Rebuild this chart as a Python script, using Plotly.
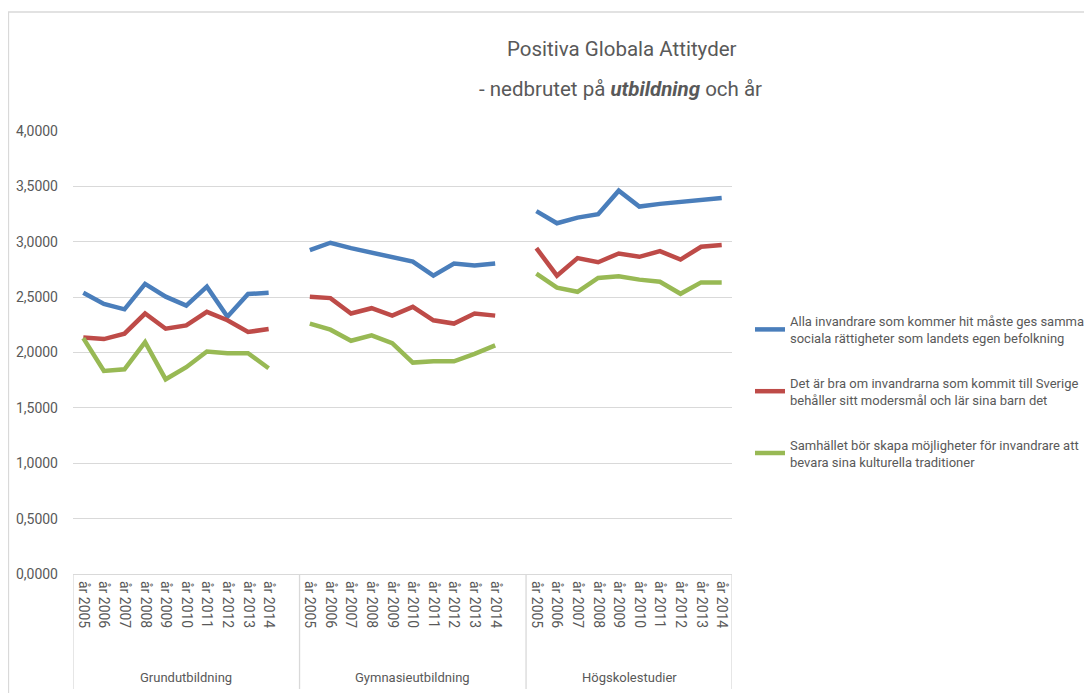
import plotly.graph_objects as go

# ---------------- data ----------------
groups = ["Grundutbildning", "Gymnasieutbildning", "Högskolestudier"]
years = ["år 2005", "år 2006", "år 2007", "år 2008", "år 2009",
         "år 2010", "år 2011", "år 2012", "år 2013", "år 2014"]

series_names = [
    "Alla invandrare som kommer hit måste ges samma<br>sociala rättigheter som landets egen befolkning",
    "Det är bra om invandrarna som kommit till Sverige<br>behåller sitt modersmål och lär sina barn det",
    "Samhället bör skapa möjligheter för invandrare att<br>bevara sina kulturella traditioner",
]

blue_grund = [2.540, 2.438, 2.390, 2.619, 2.504, 2.423, 2.594, 2.323, 2.528, 2.540]
blue_gymn = [2.924, 2.991, 2.942, 2.900, 2.855, 2.821, 2.694, 2.803, 2.785, 2.803]
blue_hogsk = [3.276, 3.167, 3.218, 3.248, 3.461, 3.318, 3.342, 3.361, 3.385, 3.394]

red_grund = [2.136, 2.121, 2.170, 2.352, 2.215, 2.245, 2.367, 2.291, 2.185, 2.212]
red_gymn = [2.503, 2.491, 2.352, 2.400, 2.333, 2.412, 2.291, 2.261, 2.352, 2.333]
red_hogsk = [2.942, 2.694, 2.852, 2.815, 2.894, 2.864, 2.915, 2.839, 2.955, 2.970]

green_grund = [2.130, 1.833, 1.848, 2.094, 1.758, 1.867, 2.009, 1.994, 1.994, 1.858]
green_gymn = [2.261, 2.206, 2.106, 2.155, 2.085, 1.909, 1.921, 1.921, 1.988, 2.064]
green_hogsk = [2.712, 2.585, 2.548, 2.673, 2.688, 2.658, 2.639, 2.530, 2.633, 2.633]

y_ticks = [0, 0.5, 1.0, 1.5, 2.0, 2.5, 3.0, 3.5, 4.0]

colors = ["#4A7EBB", "#BE4B48", "#98B954"]

# ---------------- build category slots (blank slot between groups) ----------------
per_group = [[blue_grund, blue_gymn, blue_hogsk],
             [red_grund, red_gymn, red_hogsk],
             [green_grund, green_gymn, green_hogsk]]

x_slots, tick_text, group_bounds = [], [], []
slot = 0
for gi, g in enumerate(groups):
    start = slot
    for yr in years:
        x_slots.append(slot)
        tick_text.append(yr)
        slot += 1
    if gi < len(groups) - 1:
        slot += 1  # blank category separating groups
    group_bounds.append((start - 0.5, slot - 0.5))
n_slots = slot


def build_series(parts):
    xs, ys = [], []
    s = 0
    for gi, vals in enumerate(parts):
        for v in vals:
            xs.append(s)
            ys.append(v)
            s += 1
        if gi < len(parts) - 1:
            xs.append(s)
            ys.append(None)
            s += 1
    return xs, ys


FONT = "Roboto, sans-serif"
TXT = "#595959"

fig = go.Figure()
for name, parts, col in zip(series_names, per_group, colors):
    xs, ys = build_series(parts)
    fig.add_trace(go.Scatter(x=xs, y=ys, mode="lines", name=name,
                             line=dict(color=col, width=4.5),
                             connectgaps=False, legendgroup=name))

# ---------------- layout geometry (page body has an 8px margin) ----------------
OFF = 8
W, H = 1092 - OFF, 693 - OFF
L, R, T, B = 73 - OFF, 360, 131 - OFF, 119
pw, ph = W - L - R, H - T - B


def px_x(p):
    return (p - OFF - L) / pw


def px_y(p):
    return (H - B - (p - OFF)) / ph


shapes = []
annotations = []
# group divider lines below axis
bounds = sorted(set([b for gb in group_bounds for b in gb]))
for b in bounds:
    shapes.append(dict(type="line", xref="x", yref="paper",
                       x0=b, x1=b, y0=0, y1=px_y(689),
                       line=dict(color="#D9D9D9", width=1.3)))
# group labels
for g, (a, b) in zip(groups, group_bounds):
    annotations.append(dict(text=g, xref="x", yref="paper", x=(a + b) / 2,
                            y=px_y(677), showarrow=False, yanchor="middle",
                            font=dict(family=FONT, size=13, color=TXT)))
# chart border
shapes.append(dict(type="rect", xref="paper", yref="paper",
                   x0=px_x(8.5), x1=px_x(1110), y0=px_y(710), y1=px_y(12),
                   line=dict(color="#D9D9D9", width=1.3), layer="below"))
# title
annotations.append(dict(text="Positiva Globala Attityder", xref="paper", yref="paper",
                        x=px_x(622), y=px_y(49), showarrow=False,
                        xanchor="center", yanchor="middle",
                        font=dict(family=FONT, size=20.5, color=TXT)))
annotations.append(dict(text="- nedbrutet på <b><i>utbildning</i></b> och år",
                        xref="paper", yref="paper",
                        x=px_x(620), y=px_y(89), showarrow=False,
                        xanchor="center", yanchor="middle",
                        font=dict(family=FONT, size=20.5, color=TXT)))

fig.update_layout(
    width=W, height=H,
    margin=dict(l=L, r=R, t=T, b=B, autoexpand=False),
    paper_bgcolor="white", plot_bgcolor="white",
    separators=", ",
    font=dict(family=FONT, color=TXT, size=13),
    showlegend=True,
    legend=dict(x=px_x(750), y=px_y(306), xanchor="left", yanchor="top",
                font=dict(family=FONT, size=13, color=TXT),
                tracegroupgap=25, bgcolor="rgba(0,0,0,0)"),
    shapes=shapes, annotations=annotations,
)
fig.update_xaxes(range=[-0.5, n_slots - 0.5], tickvals=x_slots, ticktext=tick_text,
                 tickangle=90, showgrid=False, zeroline=False,
                 showline=True, linecolor="#D9D9D9", linewidth=1.3,
                 ticks="", ticklabelstandoff=3,
                 tickfont=dict(family=FONT, size=14, color=TXT))
fig.update_yaxes(range=[0, 4], tickvals=y_ticks, tickformat=".4f",
                 showgrid=True, gridcolor="#D9D9D9", gridwidth=1.3,
                 zeroline=False, showline=False, ticks="",
                 ticklabelstandoff=14,
                 tickfont=dict(family=FONT, size=14, color=TXT))

fig.write_html("out.html")
